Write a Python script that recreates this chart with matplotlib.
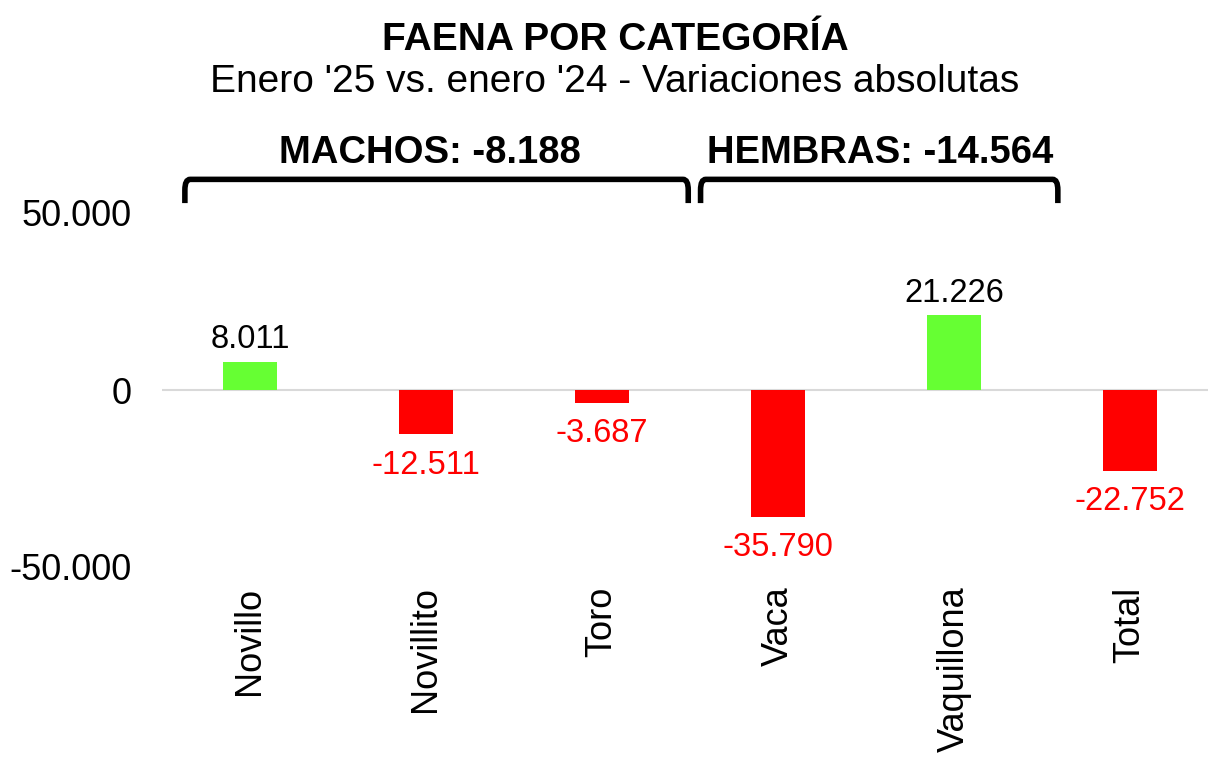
import numpy as np
import matplotlib
matplotlib.use("Agg")
import matplotlib.pyplot as plt
from matplotlib.path import Path
from matplotlib.patches import PathPatch

plt.rcParams['font.family'] = ['Liberation Sans', 'DejaVu Sans']

# ================== DATA ==================
categorias = ["Novillo", "Novillito", "Toro", "Vaca", "Vaquillona", "Total"]
variaciones = [8011, -12511, -3687, -35790, 21226, -22752]
grupos = ["MACHOS: -8.188", "HEMBRAS: -14.564"]
yticks = [-50000, 0, 50000]

VERDE = "#66FF33"
ROJO = "#FF0000"


def fmt(v):
    return f"{v:,.0f}".replace(",", ".")


fig = plt.figure(figsize=(12.08, 7.57), dpi=100)
ax = fig.add_axes([162 / 1208, 190 / 757, 1056 / 1208, 354 / 757])

x = np.arange(len(categorias))
colores = [VERDE if v >= 0 else ROJO for v in variaciones]
ax.bar(x, variaciones, width=0.31, color=colores, zorder=2)
ax.axhline(0, color="#d9d9d9", lw=1.5, zorder=1)

for xi, v, c in zip(x, variaciones, colores):
    if v >= 0:
        ax.annotate(fmt(v), (xi, v), xytext=(0, 4.5), textcoords="offset points",
                    ha="center", va="bottom", fontsize=23.5, color="black")
    else:
        ax.annotate(fmt(v), (xi, v), xytext=(0, -11), textcoords="offset points",
                    ha="center", va="top", fontsize=23.5, color=ROJO)

ax.set_xlim(-0.5, 5.5)
ax.set_ylim(-50000, 50000)
ax.set_yticks(yticks)
ax.set_yticklabels([fmt(t) for t in yticks], fontsize=26)
ax.set_xticks(x)
ax.set_xticklabels(categorias, rotation=90, fontsize=26)
ax.tick_params(axis="y", length=0, pad=22)
ax.tick_params(axis="x", length=0, pad=14)
for s in ax.spines.values():
    s.set_visible(False)

# brackets over the groups
def llave(x0, x1, y_top, y_bot, r=0.03, rr=3000):
    verts = [(x0, y_bot), (x0, y_top - rr), (x0, y_top), (x0 + r, y_top),
             (x1 - r, y_top), (x1, y_top), (x1, y_top - rr), (x1, y_bot)]
    codes = [Path.MOVETO, Path.LINETO, Path.CURVE3, Path.CURVE3,
             Path.LINETO, Path.CURVE3, Path.CURVE3, Path.LINETO]
    ax.add_patch(PathPatch(Path(verts, codes), fill=False, lw=4,
                           color="black", clip_on=False, capstyle="butt"))

llave(-0.37, 2.49, 59500, 52800)
llave(2.56, 4.59, 59500, 52800)
ax.text(1.02, 67000, grupos[0], ha="center", va="center", fontsize=27.5, fontweight="bold")
ax.text(3.58, 67000, grupos[1], ha="center", va="center", fontsize=27.5, fontweight="bold")

fig.text(615 / 1208, 1 - 40 / 757, "FAENA POR CATEGORÍA", ha="center", va="center",
         fontsize=28, fontweight="bold")
fig.text(615 / 1208, 1 - 82 / 757, "Enero '25 vs. enero '24 - Variaciones absolutas",
         ha="center", va="center", fontsize=28)

fig.savefig("out.png", dpi=100)
